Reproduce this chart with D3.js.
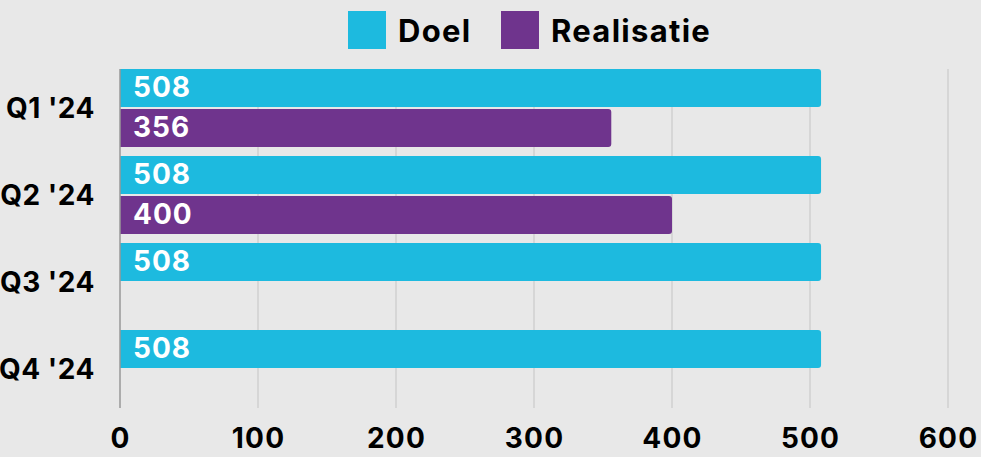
<!DOCTYPE html>
<html>
<head>
<meta charset="utf-8">
<script src="https://cdn.jsdelivr.net/npm/d3@7"></script>
<style>
  html, body { margin: 0; padding: 0; background: #e8e8e8; }
  svg { display: block; font-family: Inter, "Noto Sans", sans-serif; font-weight: 700; }
</style>
</head>
<body>
<div id="chart"></div>
<script>
var d3 = globalThis.d3;

const categories = ["Q1 '24", "Q2 '24", "Q3 '24", "Q4 '24"];
const seriesNames = ["Doel", "Realisatie"];
const doel = [508, 508, 508, 508];
const realisatie = [356, 400, null, null];
const xTicks = [0, 100, 200, 300, 400, 500, 600];
const colors = ["#1dbadf", "#6f348d"];

const width = 981, height = 457;
const margin = { left: 120, right: 33, top: 69, bottom: 49 };

const svg = d3.select("#chart").append("svg")
    .attr("width", width)
    .attr("height", height);

svg.append("rect").attr("width", width).attr("height", height).attr("fill", "#e8e8e8");

const x = d3.scaleLinear()
    .domain([0, 600])
    .range([margin.left, width - margin.right]);

const y = d3.scaleBand()
    .domain(categories)
    .range([margin.top, height - margin.bottom])
    .paddingInner(9 / 87)
    .paddingOuter(0);

const ySub = d3.scaleBand()
    .domain(seriesNames)
    .range([0, y.bandwidth()])
    .paddingInner(2 / 40);

// gridlines
svg.append("g")
    .selectAll("line")
    .data(xTicks.filter(t => t > 0))
    .enter().append("line")
    .attr("x1", d => x(d)).attr("x2", d => x(d))
    .attr("y1", margin.top).attr("y2", height - margin.bottom)
    .attr("stroke", "#c4c4c4")
    .attr("stroke-width", 1);

// x axis labels
const xAxis = svg.append("g")
    .attr("transform", "translate(0," + (height - margin.bottom) + ")")
    .call(d3.axisBottom(x).tickValues(xTicks).tickSize(0).tickPadding(40));
xAxis.select(".domain").remove();
xAxis.selectAll("text")
    .attr("dy", null)
    .attr("y", 40)
    .style("font-family", "Inter, sans-serif")
    .style("font-weight", 700)
    .style("font-size", "28px")
    .style("letter-spacing", "1.2px")
    .style("fill", "#000");

// y axis labels
const yAxis = svg.append("g")
    .attr("transform", "translate(95,0)")
    .call(d3.axisLeft(y).tickSize(0).tickPadding(0));
yAxis.select(".domain").remove();
yAxis.selectAll("text")
    .attr("dy", "0.36em")
    .style("font-family", "Inter, sans-serif")
    .style("font-weight", 700)
    .style("font-size", "28px")
    .style("letter-spacing", "0.5px")
    .style("fill", "#000");

// bar with rounded right corners
function barPath(x0, x1, y0, h, r) {
    r = Math.min(r, (x1 - x0) / 2);
    return "M" + x0 + "," + y0 +
        "H" + (x1 - r) +
        "Q" + x1 + "," + y0 + " " + x1 + "," + (y0 + r) +
        "V" + (y0 + h - r) +
        "Q" + x1 + "," + (y0 + h) + " " + (x1 - r) + "," + (y0 + h) +
        "H" + x0 + "Z";
}

const rows = [];
categories.forEach((c, i) => {
    [doel[i], realisatie[i]].forEach((v, s) => {
        if (v != null) rows.push({ cat: c, series: seriesNames[s], value: v, color: colors[s] });
    });
});

const bars = svg.append("g");
bars.selectAll("path")
    .data(rows)
    .enter().append("path")
    .attr("d", d => barPath(x(0), x(d.value), y(d.cat) + ySub(d.series), ySub.bandwidth(), 3))
    .attr("fill", d => d.color);

bars.selectAll("text")
    .data(rows)
    .enter().append("text")
    .attr("x", x(0) + 13)
    .attr("y", d => y(d.cat) + ySub(d.series) + ySub.bandwidth() / 2 + 9)
    .attr("fill", "#fff")
    .style("font-size", "28px")
    .style("letter-spacing", "1px")
    .text(d => d.value);

// zero axis line
svg.append("line")
    .attr("x1", x(0)).attr("x2", x(0))
    .attr("y1", margin.top).attr("y2", height - margin.bottom)
    .attr("stroke", "#999")
    .attr("stroke-width", 1.5);

// legend
const legend = svg.append("g");
const legendX = [348, 501];
seriesNames.forEach((name, i) => {
    legend.append("rect")
        .attr("x", legendX[i]).attr("y", 11)
        .attr("width", 38).attr("height", 38)
        .attr("fill", colors[i]);
    legend.append("text")
        .attr("x", legendX[i] + 50)
        .attr("y", 42)
        .attr("fill", "#000")
        .style("font-size", "31px")
        .style("letter-spacing", "1.3px")
        .text(name);
});
</script>
</body>
</html>
